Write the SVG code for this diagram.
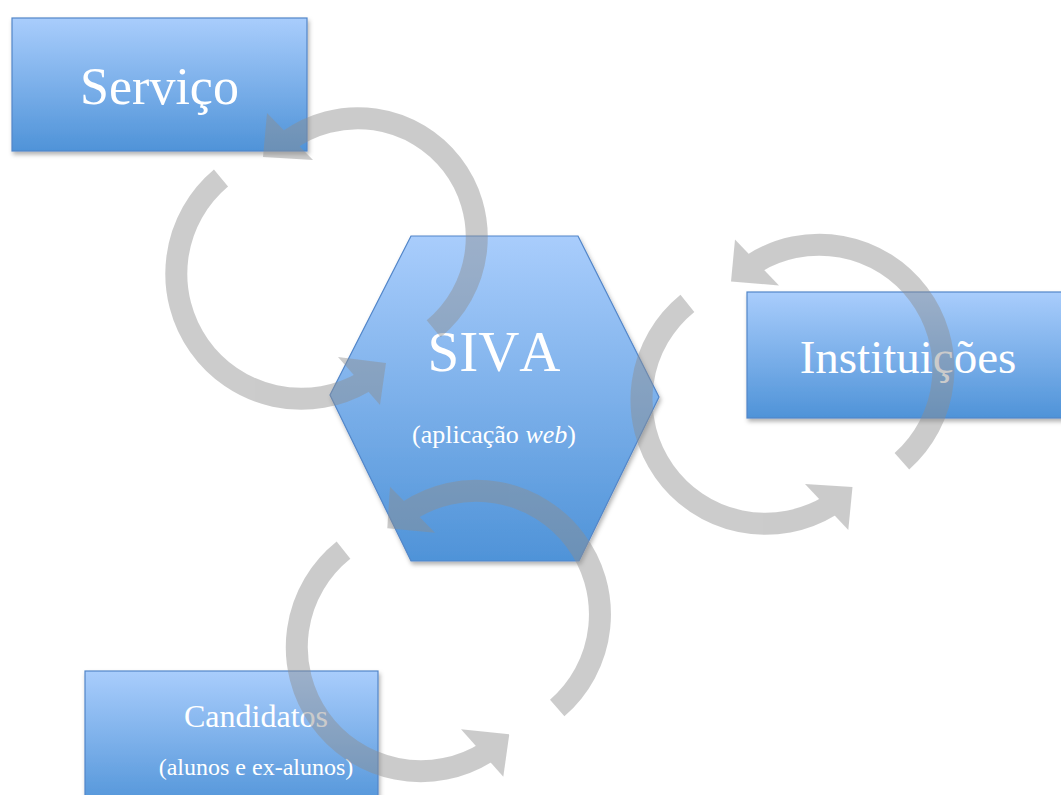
<svg xmlns="http://www.w3.org/2000/svg" width="1061" height="795" viewBox="0 0 1061 795">
<style>
.node{stroke:#5286c9;stroke-width:1.2;filter:url(#sh)}
.t{font-family:"Liberation Serif","Times New Roman",serif;fill:#ffffff;text-anchor:middle;font-kerning:none}
.band{fill:none;stroke:#8e8e8e;stroke-width:22;stroke-linecap:butt}
.head{fill:#8e8e8e;stroke:none}
.arr{opacity:0.45}
</style>
<defs>
<linearGradient id="g" x1="0" y1="0" x2="0" y2="1">
<stop offset="0" stop-color="#a9cdfc"/>
<stop offset="1" stop-color="#4f93d8"/>
</linearGradient>
<filter id="sh" x="-10%" y="-10%" width="125%" height="130%">
<feDropShadow dx="1.5" dy="3" stdDeviation="2" flood-color="#000" flood-opacity="0.3"/>
</filter>
</defs>
<rect width="1061" height="795" fill="#ffffff"/>
<g id="servico">
<rect class="node" x="12" y="18" width="295" height="133" fill="url(#g)"/>
<text class="t" x="159.5" y="104" font-size="52">Serviço</text>
</g>
<g id="instituicoes">
<rect class="node" x="747" y="292" width="330" height="126" fill="url(#g)"/>
<text class="t" x="908" y="373" font-size="47">Instituições</text>
</g>
<g id="candidatos">
<rect class="node" x="85" y="671" width="293" height="140" fill="url(#g)"/>
<text class="t" x="256" y="727" font-size="32">Candidatos</text>
<text class="t" x="256" y="775" font-size="24">(alunos e ex-alunos)</text>
</g>
<g id="siva">
<polygon class="node" points="411,236 578,236 659,397 579,561 411,561 330,395" fill="url(#g)"/>
<text class="t" x="494" y="371" font-size="57">SIVA</text>
<text class="t" x="494" y="443" font-size="26">(aplicação <tspan font-style="italic">web</tspan>)</text>
</g>
<g id="connectors">
<g class="arr" id="arrow-siva-servico">
<path class="band" d="M433.7,328.8 A119,119 0 0 0 288.1,140.7"/>
<polygon class="head" points="267,113 313,160 263,157"/>
</g>
<g class="arr" id="arrow-servico-siva">
<path class="band" d="M221,178 A125,125 0 0 0 364.4,381.7"/>
<polygon class="head" points="338,357 380,405 386,363"/>
</g>
<g class="arr" id="arrow-inst-siva">
<path class="band" d="M901.9,461.3 A124,124 0 0 0 753,264"/>
<polygon class="head" points="735,239.5 779,285.5 731,281.5"/>
</g>
<g class="arr" id="arrow-siva-inst">
<path class="band" d="M687.4,303.4 A124,124 0 0 0 830.2,505.5"/>
<polygon class="head" points="805,484 848.3,530 852.5,487"/>
</g>
<g class="arr" id="arrow-cand-siva">
<path class="band" d="M557.2,708 A123.7,123.7 0 0 0 408.3,511.1"/>
<polygon class="head" points="390,486.7 435,532.7 387.3,528.3"/>
</g>
<g class="arr" id="arrow-siva-cand">
<path class="band" d="M343.5,550.2 A124,124 0 0 0 486.7,752.2"/>
<polygon class="head" points="461,729.3 503.3,776.7 509.3,734.3"/>
</g>
</g>
</svg>
